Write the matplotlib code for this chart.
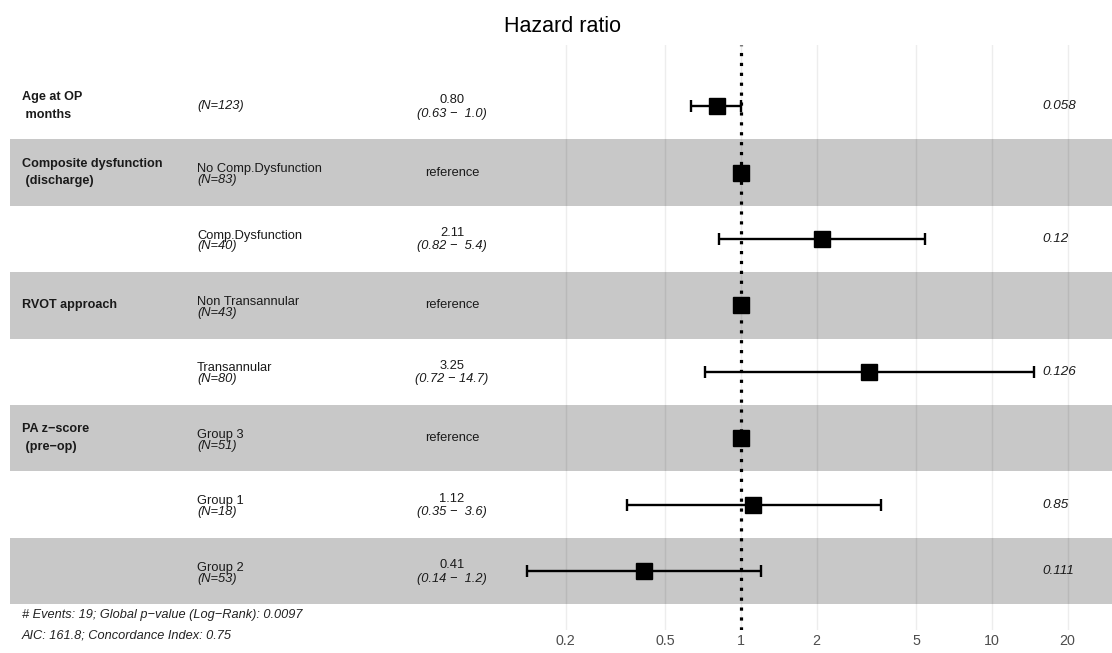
import numpy as np
import matplotlib
matplotlib.use("Agg")
import matplotlib.pyplot as plt

plt.rcParams['font.family'] = ['Liberation Sans', 'DejaVu Sans']

# ---------------- data ----------------
var_names = ["Age at OP\n months", "Composite dysfunction\n (discharge)", "",
             "RVOT approach", "", "PA z\u2212score\n (pre\u2212op)", "", ""]
levels = ["", "No Comp.Dysfunction", "Comp.Dysfunction", "Non Transannular",
          "Transannular", "Group 3", "Group 1", "Group 2"]
n_obs = [123, 83, 40, 43, 80, 51, 18, 53]
hr = [0.80, 1.0, 2.11, 1.0, 3.25, 1.0, 1.12, 0.41]
ci_low = [0.63, np.nan, 0.82, np.nan, 0.72, np.nan, 0.35, 0.14]
ci_high = [1.0, np.nan, 5.4, np.nan, 14.7, np.nan, 3.6, 1.2]
hr_text = ["0.80", "reference", "2.11", "reference", "3.25", "reference", "1.12", "0.41"]
ci_text = ["(0.63 \u2212  1.0)", "", "(0.82 \u2212  5.4)", "", "(0.72 \u2212 14.7)", "",
           "(0.35 \u2212  3.6)", "(0.14 \u2212  1.2)"]
p_text = ["0.058", "", "0.12", "", "0.126", "", "0.85", "0.111"]
x_ticks = [0.2, 0.5, 1, 2, 5, 10, 20]
x_tick_labels = ["0.2", "0.5", "1", "2", "5", "10", "20"]
footer = ["# Events: 19; Global p\u2212value (Log\u2212Rank): 0.0097",
          "AIC: 161.8; Concordance Index: 0.75"]

# ---------------- layout ----------------
W, H = 1112, 653
fig = plt.figure(figsize=(W / 100, H / 100), dpi=100)

X1_PX = 741.0        # pixel of HR = 1
DEC_PX = 251.0       # pixels per decade
ROW_TOP, ROW_PX = 73.0, 66.4
AX_TOP, AX_BOT = 45.0, 630.0
nrows = len(levels)

ax = fig.add_axes([0, 1 - AX_BOT / H, 1, (AX_BOT - AX_TOP) / H])
ax.set_xscale('log')
ax.set_xlim(10 ** ((0 - X1_PX) / DEC_PX), 10 ** ((W - X1_PX) / DEC_PX))
ax.set_ylim(0.5 + nrows + (AX_BOT - (ROW_TOP + nrows * ROW_PX)) / ROW_PX,
            0.5 - (ROW_TOP - AX_TOP) / ROW_PX)
for s in ax.spines.values():
    s.set_visible(False)
ax.set_yticks([])
ax.set_xticks(x_ticks)
ax.set_xticklabels(x_tick_labels)
ax.xaxis.set_minor_locator(matplotlib.ticker.NullLocator())
ax.tick_params(axis='x', length=0, pad=3, labelsize=10.3, labelcolor='#4d4d4d')


def px2x(px):
    return 10 ** ((px - X1_PX) / DEC_PX)


def dpx(p):
    return p / ROW_PX


rows = np.arange(1, nrows + 1)

# bands
for i, r in enumerate(rows):
    if i % 2 == 1:
        ax.axhspan(r - 0.5, r + 0.5, xmin=10 / W, xmax=1, color='#c8c8c8', lw=0, zorder=0)

# grid
for t in x_ticks:
    ax.axvline(t, color='black', alpha=0.07, lw=1.0, zorder=1)
ax.axvline(1, color='black', lw=2.3, linestyle=(0, (1, 2.1)), zorder=2)

# error bars and points
for i, r in enumerate(rows):
    if not np.isnan(ci_low[i]):
        ax.errorbar(hr[i], r, xerr=[[hr[i] - ci_low[i]], [ci_high[i] - hr[i]]],
                    fmt='none', ecolor='black', elinewidth=1.7, capsize=4.4,
                    capthick=1.7, zorder=3)
ax.plot(hr, rows, 's', color='black', markersize=12, zorder=4)

# text columns
x_var = px2x(22)
x_lev = px2x(197)
x_est = px2x(452)
x_p = px2x(1042)
fs = 9.3
tc = '#1a1a1a'
for i, r in enumerate(rows):
    if var_names[i]:
        ax.text(x_var, r, var_names[i], ha='left', va='center', fontsize=9.1,
                fontweight='bold', linespacing=1.6, color=tc)
    ntxt = "(N=%d)" % n_obs[i]
    if levels[i]:
        ax.text(x_lev, r + dpx(-0.5), levels[i], ha='left', va='baseline', fontsize=fs, color=tc)
        ax.text(x_lev, r + dpx(10.5), ntxt, ha='left', va='baseline', fontsize=fs,
                style='italic', color=tc)
    else:
        ax.text(x_lev, r, ntxt, ha='left', va='center', fontsize=fs, style='italic', color=tc)
    if ci_text[i]:
        ax.text(x_est, r + dpx(-3), hr_text[i], ha='center', va='baseline', fontsize=fs, color=tc)
        ax.text(x_est, r + dpx(10.5), ci_text[i], ha='center', va='baseline', fontsize=fs,
                style='italic', color=tc)
    else:
        ax.text(x_est, r, hr_text[i], ha='center', va='center', fontsize=fs, color=tc)
    if p_text[i]:
        ax.text(x_p, r, p_text[i], ha='left', va='center', fontsize=fs + 0.4,
                style='italic', color=tc)

fig.text(563 / W, 1 - 27 / H, "Hazard ratio", ha='center', va='center', fontsize=15.5)
fig.text(22 / W, 1 - 615 / H, footer[0], ha='left', va='center', fontsize=9.2,
         style='italic', color='#222222')
fig.text(22 / W, 1 - 635 / H, footer[1], ha='left', va='center', fontsize=9.2,
         style='italic', color='#222222')

fig.savefig("out.png", dpi=100)
